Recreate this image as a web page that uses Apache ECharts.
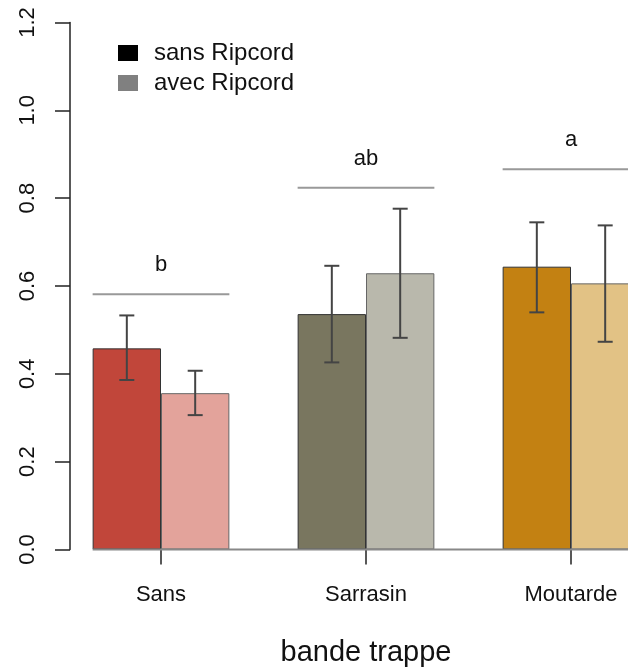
<!DOCTYPE html>
<html>
<head>
<meta charset="utf-8">
<style>
  html, body { margin: 0; padding: 0; background: #fff; }
  #chart { width: 628px; height: 667px; }
</style>
<script src="https://cdn.jsdelivr.net/npm/echarts@6/dist/echarts.min.js"></script>
</head>
<body>
<div id="chart"></div>
<script>
    // données
    var categories = ['Sans', 'Sarrasin', 'Moutarde'];
    var seriesNames = ['sans Ripcord', 'avec Ripcord'];
    var sansValues = [0.458, 0.536, 0.644];
    var sansLow = [0.386, 0.426, 0.540];
    var sansHigh = [0.533, 0.646, 0.745];
    var avecValues = [0.356, 0.629, 0.606];
    var avecLow = [0.306, 0.482, 0.473];
    var avecHigh = [0.407, 0.776, 0.738];
    var sigHeights = [0.581, 0.824, 0.866];
    var sigLetters = ['b', 'ab', 'a'];
    var yTicks = [0, 0.2, 0.4, 0.6, 0.8, 1.0, 1.2];

    var darkColors = ['#c1463a', '#79765f', '#c38112'];
    var lightColors = ['#e3a39b', '#b9b8ac', '#e2c285'];
    var font = 'Liberation Sans, Arial, Helvetica, sans-serif';
    var gapRatio = 0.333;

    var chart = echarts.init(document.getElementById('chart'));

    function barItems(values, colors, border) {
        return values.map(function (v, i) {
            return {value: v, itemStyle: {color: colors[i], borderColor: border, borderWidth: 1}};
        });
    }

    // barres d'erreur, lignes de significativité, ligne de base
    var extraData = [];
    categories.forEach(function (c, i) {
        extraData.push(['err', i, sansLow[i], sansHigh[i], 0]);
        extraData.push(['err', i, avecLow[i], avecHigh[i], 1]);
        extraData.push(['sig', i, sigHeights[i], 0, 0]);
    });
    extraData.push(['base', 0, 0, 0, 0]);

    function renderExtra(params, api) {
        var kind = api.value(0);
        var idx = api.value(1);
        var band = api.size([1, 0])[0];
        var barW = band * (1 - gapRatio) / 2;
        var c = api.coord([idx, 0]);
        if (kind === 'err') {
            var side = api.value(4);
            var x = c[0] + (side === 0 ? -barW / 2 : barW / 2);
            var lo = api.coord([idx, api.value(2)])[1];
            var hi = api.coord([idx, api.value(3)])[1];
            var st = {stroke: '#444', lineWidth: 2};
            return {type: 'group', children: [
                {type: 'line', shape: {x1: x, y1: lo, x2: x, y2: hi}, style: st},
                {type: 'line', shape: {x1: x - 7.5, y1: lo, x2: x + 7.5, y2: lo}, style: st},
                {type: 'line', shape: {x1: x - 7.5, y1: hi, x2: x + 7.5, y2: hi}, style: st}
            ]};
        }
        if (kind === 'sig') {
            var y = api.coord([idx, api.value(2)])[1];
            return {type: 'group', children: [
                {type: 'line', shape: {x1: c[0] - barW, y1: y, x2: c[0] + barW, y2: y},
                    style: {stroke: '#999', lineWidth: 2}},
                {type: 'text', x: c[0], y: y - 29,
                    style: {text: sigLetters[idx], font: '22px ' + font, fill: '#111',
                        align: 'center', verticalAlign: 'middle'}}
            ]};
        }
        var first = api.coord([0, 0]);
        var last = api.coord([categories.length - 1, 0]);
        return {type: 'line', shape: {x1: first[0] - barW, y1: first[1], x2: last[0] + barW, y2: last[1]},
            style: {stroke: '#888', lineWidth: 2}};
    }

    var option = {
        animation: false,
        backgroundColor: '#fff',
        textStyle: {fontFamily: font},
        grid: {left: 58.5, width: 615, top: 22.5, height: 527, outerBoundsMode: 'none', containLabel: false},
        legend: {
            orient: 'vertical',
            left: 113,
            top: 36,
            itemWidth: 20,
            itemHeight: 16,
            itemGap: 6,
            icon: 'rect',
            data: seriesNames,
            itemStyle: {borderWidth: 0},
            textStyle: {fontSize: 24, color: '#111', padding: [0, 0, 0, 11], fontFamily: font}
        },
        xAxis: {
            type: 'category',
            data: categories,
            name: 'bande trappe',
            nameLocation: 'middle',
            nameGap: 89,
            nameTextStyle: {fontSize: 29, color: '#111', fontFamily: font},
            axisLine: {show: false},
            axisTick: {show: true, alignWithLabel: true, length: 15, lineStyle: {color: '#222', width: 1.5}},
            axisLabel: {fontSize: 22, color: '#111', margin: 34, fontFamily: font}
        },
        yAxis: {
            type: 'value',
            min: yTicks[0],
            max: yTicks[yTicks.length - 1],
            interval: 0.2,
            offset: -11.5,
            splitLine: {show: false},
            axisLine: {show: true, lineStyle: {color: '#222', width: 1.5}},
            axisTick: {show: true, length: 15, lineStyle: {color: '#222', width: 1.5}},
            axisLabel: {
                rotate: 90, fontSize: 22, color: '#111', margin: 31, fontFamily: font,
                formatter: function (v) { return v.toFixed(1); }
            }
        },
        series: [
            {
                name: seriesNames[0], type: 'bar',
                barGap: '0%', barCategoryGap: (gapRatio * 100) + '%',
                itemStyle: {color: '#000'},
                data: barItems(sansValues, darkColors, '#333'),
                z: 2
            },
            {
                name: seriesNames[1], type: 'bar',
                barGap: '0%', barCategoryGap: (gapRatio * 100) + '%',
                itemStyle: {color: '#808080'},
                data: barItems(avecValues, lightColors, '#666'),
                z: 2
            },
            {
                type: 'custom',
                renderItem: renderExtra,
                data: extraData,
                encode: {x: 1, y: 2},
                clip: false,
                z: 5,
                silent: true
            }
        ]
    };
    chart.setOption(option);
</script>
</body>
</html>
